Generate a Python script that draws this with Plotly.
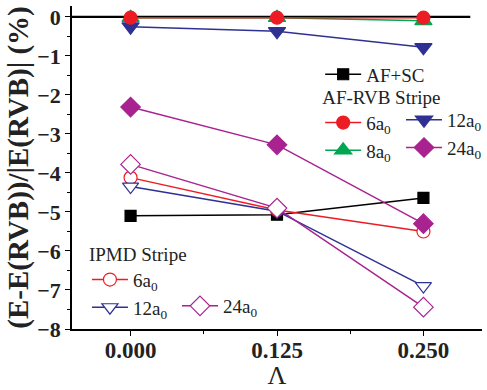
import plotly.graph_objects as go

lam = [0.0, 0.125, 0.25]
af_sc = [-5.10, -5.07, -4.64]
rvb_6 = [-0.02, -0.02, -0.02]
rvb_8 = [-0.02, -0.02, -0.10]
rvb_12 = [-0.25, -0.37, -0.78]
rvb_24 = [-2.31, -3.28, -5.30]
ipmd_6 = [-4.12, -4.95, -5.50]
ipmd_12 = [-4.35, -4.98, -6.90]
ipmd_24 = [-3.78, -4.90, -7.44]

RED = "#ED1C24"
GREEN = "#00A651"
BLUE = "#2E3192"
PURPLE = "#A8238F"
BLACK = "#000000"
FONT = "Liberation Serif"

fig = go.Figure()

def add(y, name, color, symbol, size, legend, rank, filled=True):
    fig.add_trace(go.Scatter(
        x=lam, y=y, name=name, mode="lines+markers",
        line=dict(color=color, width=1.5),
        marker=dict(symbol=symbol, size=size,
                    color=color if filled else "white",
                    line=dict(color=color, width=1.2)),
        legend=legend, legendrank=rank))

add(af_sc, "AF+SC", BLACK, "square", 11, "legend", 1)
add(ipmd_6, "6a<sub>0</sub>", RED, "circle", 13, "legend4", 1, filled=False)
add(ipmd_12, "12a<sub>0</sub>", BLUE, "triangle-down", 14, "legend4", 2, filled=False)
add(ipmd_24, "24a<sub>0</sub>", PURPLE, "diamond", 15, "legend5", 1, filled=False)
add(rvb_24, "24a<sub>0</sub>", PURPLE, "diamond", 15, "legend3", 2)
add(rvb_12, "12a<sub>0</sub>", BLUE, "triangle-down", 15, "legend3", 1)
add(rvb_8, "8a<sub>0</sub>", GREEN, "triangle-up", 15, "legend2", 2)
add(rvb_6, "6a<sub>0</sub>", RED, "circle", 13, "legend2", 1)

fig.add_shape(type="line", xref="x", yref="y", x0=-0.05, x1=0.29, y0=0, y1=0,
              line=dict(color=BLACK, width=2.2), layer="below")

leg_common = dict(font=dict(family=FONT, size=19, color="#222"),
                  bgcolor="rgba(0,0,0,0)", borderwidth=0,
                  yanchor="top", tracegroupgap=0,
                  itemwidth=36, traceorder="normal", visible=True)
title_font = dict(family=FONT, size=19, color="#222")

fig.update_layout(
    width=487, height=390,
    margin=dict(l=72, r=0, t=6, b=61),
    paper_bgcolor="white", plot_bgcolor="white",
    font=dict(family=FONT, color="#222"),
    showlegend=True,
    legend=dict(x=0.598, y=0.847, xanchor="left", **leg_common),
    legend2=dict(x=0.598, y=0.774, xanchor="left", title=dict(text="AF-RVB Stripe", font=title_font), **leg_common),
    legend3=dict(x=1.0, y=0.706, xanchor="right", **leg_common),
    legend4=dict(x=0.036, y=0.288, xanchor="left", title=dict(text="IPMD Stripe", font=title_font), **leg_common),
    legend5=dict(x=0.253, y=0.130, xanchor="left", **leg_common),
    xaxis=dict(range=[-0.05, 0.30], domain=[0, 410 / 415], tickvals=lam, ticktext=["0.000", "0.125", "0.250"],
               ticks="outside", ticklen=5, tickwidth=1.2, tickcolor=BLACK,
               minor=dict(tickvals=[-0.0625, 0.0625, 0.1875], ticks="outside", ticklen=3, tickcolor=BLACK),
               showline=True, linecolor=BLACK, linewidth=1.5, showgrid=False, zeroline=False,
               automargin=False, ticklabelstandoff=-5,
               tickfont=dict(family=FONT, size=23, color="#222", weight="bold"),
               title=dict(text="Λ", font=dict(family=FONT, size=26, color="#222"), standoff=0)),
    yaxis=dict(range=[-8, 0.28], tickvals=[0, -1, -2, -3, -4, -5, -6, -7, -8],
               ticks="outside", ticklen=5, tickwidth=1.2, tickcolor=BLACK,
               minor=dict(dtick=0.5, ticks="outside", ticklen=3, tickcolor=BLACK),
               showline=True, linecolor=BLACK, linewidth=1.5, showgrid=False, zeroline=False,
               automargin=False,
               tickfont=dict(family=FONT, size=22, color="#222", weight="bold"),
               title=dict(text="(E-E(RVB))/|E(RVB)| (%)", font=dict(family=FONT, size=29, color="#222", weight="bold"), standoff=0)),
)

fig.write_html("out.html", config={"displayModeBar": False},
               post_script="document.body.style.margin='0';")
